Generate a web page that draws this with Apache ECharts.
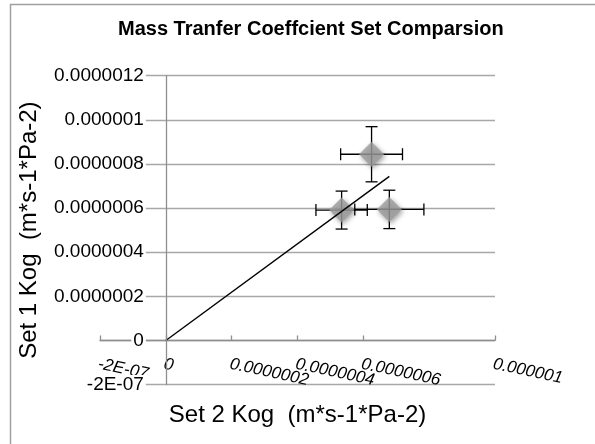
<!DOCTYPE html>
<html>
<head>
<meta charset="utf-8">
<script src="https://cdn.jsdelivr.net/npm/echarts@6/dist/echarts.min.js"></script>
<style>
html,body{margin:0;padding:0;background:#fff;}
#chart{width:595px;height:444px;}
</style>
</head>
<body>
<div id="chart"></div>
<script>
// ---- data ----
var titleText = 'Mass Tranfer Coeffcient Set Comparsion';
var xTitle = 'Set 2 Kog  (m*s-1*Pa-2)';
var yTitle = 'Set 1 Kog  (m*s-1*Pa-2)';

var set2Kog = [6.25e-7, 5.34e-7, 6.79e-7];      // x values
var set1Kog = [8.44e-7, 5.91e-7, 5.94e-7];      // y values
var set2Err = [0.94e-7, 0.78e-7, 1.05e-7];      // x error (+/-)
var set1Err = [1.25e-7, 0.86e-7, 0.87e-7];      // y error (+/-)

var trendX = [0, 6.79e-7];
var trendY = [0, 7.44e-7];

var xTickLabels = ['-2E-07', '0', '0.0000002', '0.0000004', '0.0000006', '0.0000008', '0.000001'];
var yTickLabels = ['-2E-07', '0', '0.0000002', '0.0000004', '0.0000006', '0.0000008', '0.000001', '0.0000012'];
var xMin = -2e-7, xMax = 1e-6, yMin = -2e-7, yMax = 1.2e-6, step = 2e-7;

// ---- layout ----
var W = 595, H = 444;
var gLeft = 100, gRight = 100, gTop = 75.7, gBottom = 59.4;
var gW = W - gLeft - gRight, gH = H - gTop - gBottom;
// axes cross at zero: shift each axis from the grid edge to the zero of the other axis
var yAxisShift = -((0 - xMin) / (xMax - xMin)) * gW;
var xAxisShift = -((0 - yMin) / (yMax - yMin)) * gH;

// ---- build ----
var pts = set2Kog.map(function (x, i) { return [x, set1Kog[i]]; });
var errPts = set2Kog.map(function (x, i) { return [x, set1Kog[i], set2Err[i], set1Err[i]]; });
var trendPts = trendX.map(function (x, i) { return [x, trendY[i]]; });

function labelFrom(arr, min) {
  return function (v) {
    var i = Math.round((v - min) / step);
    return arr[i] !== undefined ? arr[i] : '';
  };
}

var chart = echarts.init(document.getElementById('chart'), null, {renderer: 'canvas'});
var gridColor = '#a8a8a8';
var axisColor = '#8f8f8f';
var FONT = 'Liberation Sans';

chart.setOption({
  animation: false,
  backgroundColor: '#ffffff',
  title: {
    text: titleText,
    left: 118,
    top: 19,
    padding: 0,
    textStyle: {fontFamily: FONT, fontSize: 20, fontWeight: 'bold', color: '#000'}
  },
  graphic: [{
    type: 'rect',
    shape: {x: 10.5, y: 4.5, width: 700, height: 600},
    style: {fill: 'none', stroke: '#a0a0a0', lineWidth: 1.5},
    z: -10
  }],
  grid: {left: gLeft, right: gRight, top: gTop, bottom: gBottom, containLabel: false, outerBoundsMode: 'none'},
  xAxis: {
    type: 'value',
    min: xMin, max: xMax, interval: step,
    offset: xAxisShift,
    axisLine: {onZero: false, lineStyle: {color: axisColor, width: 1.3}},
    axisTick: {show: true, inside: true, length: 5, lineStyle: {color: axisColor, width: 1.3}},
    splitLine: {show: false},
    axisLabel: {
      formatter: labelFrom(xTickLabels, xMin),
      rotate: -12,
      align: 'left',
      verticalAlign: 'top',
      margin: 15,
      fontFamily: FONT, fontSize: 17, fontStyle: 'italic', color: '#000',
      showMinLabel: true, showMaxLabel: true, hideOverlap: false
    },
    name: xTitle,
    nameLocation: 'middle',
    nameGap: 63,
    nameTextStyle: {fontFamily: FONT, fontSize: 24, color: '#000'}
  },
  yAxis: [{
    type: 'value', position: 'left',
    min: yMin, max: yMax, interval: step,
    axisLine: {show: false, onZero: false},
    axisTick: {show: false},
    axisLabel: {show: false},
    splitLine: {show: true, lineStyle: {color: gridColor, width: 1.3}},
    z: 0
  }, {
    type: 'value', position: 'left',
    min: yMin, max: yMax, interval: step,
    offset: yAxisShift,
    axisLine: {show: true, onZero: false, lineStyle: {color: axisColor, width: 1.3}},
    axisTick: {show: false},
    splitLine: {show: false},
    axisLabel: {
      formatter: labelFrom(yTickLabels, yMin),
      margin: 20,
      fontFamily: FONT, fontSize: 19, color: '#000',
      backgroundColor: '#ffffff', padding: [0, 2, 0, 2],
      showMinLabel: true, showMaxLabel: true, hideOverlap: false
    },
    name: yTitle,
    nameLocation: 'middle',
    nameGap: 121,
    nameRotate: 90,
    nameTextStyle: {fontFamily: FONT, fontSize: 24, color: '#000'},
    z: 5
  }],
  series: [{
    type: 'custom',
    name: 'error',
    xAxisIndex: 0, yAxisIndex: 1,
    encode: {x: 0, y: 1},
    z: 2,
    renderItem: function (params, api) {
      var x = api.value(0), y = api.value(1), xe = api.value(2), ye = api.value(3);
      var l = api.coord([x - xe, y]), r = api.coord([x + xe, y]);
      var t = api.coord([x, y + ye]), b = api.coord([x, y - ye]);
      var c = 6;
      var st = {stroke: '#000', lineWidth: 1.3};
      return {type: 'group', children: [
        {type: 'line', shape: {x1: l[0], y1: l[1], x2: r[0], y2: r[1]}, style: st},
        {type: 'line', shape: {x1: l[0], y1: l[1] - c, x2: l[0], y2: l[1] + c}, style: st},
        {type: 'line', shape: {x1: r[0], y1: r[1] - c, x2: r[0], y2: r[1] + c}, style: st},
        {type: 'line', shape: {x1: t[0], y1: t[1], x2: b[0], y2: b[1]}, style: st},
        {type: 'line', shape: {x1: t[0] - c, y1: t[1], x2: t[0] + c, y2: t[1]}, style: st},
        {type: 'line', shape: {x1: b[0] - c, y1: b[1], x2: b[0] + c, y2: b[1]}, style: st}
      ]};
    },
    data: errPts
  }, {
    type: 'scatter',
    name: 'Kog',
    xAxisIndex: 0, yAxisIndex: 1,
    z: 3,
    symbol: 'diamond',
    symbolSize: 25,
    itemStyle: {
      color: '#9d9d9d',
      shadowBlur: 5,
      shadowColor: 'rgba(0,0,0,0.45)',
      shadowOffsetX: 1.5,
      shadowOffsetY: 2
    },
    data: pts
  }, {
    type: 'line',
    name: 'trend',
    xAxisIndex: 0, yAxisIndex: 1,
    z: 4,
    symbol: 'none',
    lineStyle: {color: '#000', width: 1.4},
    data: trendPts
  }]
});
</script>
</body>
</html>
